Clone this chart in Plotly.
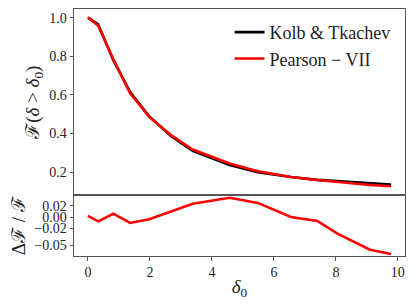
import plotly.graph_objects as go
from plotly.subplots import make_subplots

delta0 = [0.0, 0.33, 0.82, 1.36, 1.98, 2.7, 3.38, 4.57, 5.48, 6.55, 7.4, 8.05, 9.1, 9.78]
kolb_tkachev = [1.0, 0.965, 0.78, 0.615, 0.488, 0.385, 0.31, 0.237, 0.2, 0.175, 0.16, 0.153, 0.142, 0.136]
pearson_vii = [1.002, 0.958, 0.785, 0.608, 0.486, 0.389, 0.317, 0.245, 0.205, 0.175, 0.159, 0.1485, 0.1338, 0.127]
residual = [0.002, -0.0076, 0.0058, -0.0106, -0.004, 0.01, 0.0235, 0.034, 0.025, 0.0, -0.007, -0.0295, -0.058, -0.0655]

top_ticks = [0.2, 0.4, 0.6, 0.8, 1.0]
top_labels = ["0.2", "0.4", "0.6", "0.8", "1.0"]
bot_ticks = [0.02, 0.0, -0.02, -0.05]
bot_labels = ["0.02", "0.00", "\u22120.02", "\u22120.05"]
x_ticks = [0, 2, 4, 6, 8, 10]

FONT = "'Liberation Serif', 'Times New Roman', 'DejaVu Serif', serif"
LINE = "#555555"
TXT = "#222222"

fig = make_subplots(rows=2, cols=1, shared_xaxes=True, vertical_spacing=0,
                    row_heights=[0.7543, 0.2457])

fig.add_trace(go.Scatter(x=delta0, y=kolb_tkachev, mode="lines", name="Kolb & Tkachev",
                         line=dict(color="black", width=2.6)), row=1, col=1)
fig.add_trace(go.Scatter(x=delta0, y=pearson_vii, mode="lines", name="Pearson \u2212 VII",
                         line=dict(color="#ff0000", width=2.6)), row=1, col=1)
fig.add_trace(go.Scatter(x=delta0, y=residual, mode="lines", showlegend=False,
                         line=dict(color="#ff0000", width=2.6)), row=2, col=1)

axis_common = dict(showline=True, mirror=True, linecolor=LINE, linewidth=1,
                   showgrid=False, zeroline=False, automargin=False,
                   tickfont=dict(family=FONT, size=14, color=TXT))

fig.update_xaxes(range=[-0.45, 10.23], ticks="", showticklabels=False, row=1, col=1, **axis_common)
fig.update_xaxes(range=[-0.45, 10.23], tickvals=x_ticks, ticks="outside", ticklen=3.5,
                 tickcolor=LINE, showticklabels=True,
                 title=dict(text="<i>\u03b4</i><sub>0</sub>", font=dict(family=FONT, size=19, color=TXT),
                            standoff=0),
                 row=2, col=1, **axis_common)
fig.update_yaxes(range=[0.08, 1.045], tickvals=top_ticks, ticktext=top_labels,
                 ticks="outside", ticklen=3.5, tickcolor=LINE,
                 title=dict(text="\u2131(<i>\u03b4</i> > <i>\u03b4</i><sub>0</sub>)",
                            font=dict(family=FONT, size=19, color=TXT), standoff=4),
                 row=1, col=1, **axis_common)
fig.update_yaxes(range=[-0.069, 0.0384], tickvals=bot_ticks, ticktext=bot_labels,
                 ticks="outside", ticklen=3.5, tickcolor=LINE,
                 title=dict(text="\u0394\u2131 / \u2131", font=dict(family=FONT, size=19, color=TXT),
                            standoff=4),
                 row=2, col=1, **axis_common)

# page body has an 8px default margin; size the figure so the plot lands where the reference has it
fig.update_layout(
    width=407, height=296,
    margin=dict(l=66, r=10, t=1, b=48),
    plot_bgcolor="white", paper_bgcolor="white",
    font=dict(family=FONT, color=TXT),
    legend=dict(x=0.47, y=0.98, xanchor="left", yanchor="top",
                bgcolor="rgba(0,0,0,0)", font=dict(family=FONT, size=18, color=TXT),
                tracegroupgap=2),
)

fig.write_html("out.html")
